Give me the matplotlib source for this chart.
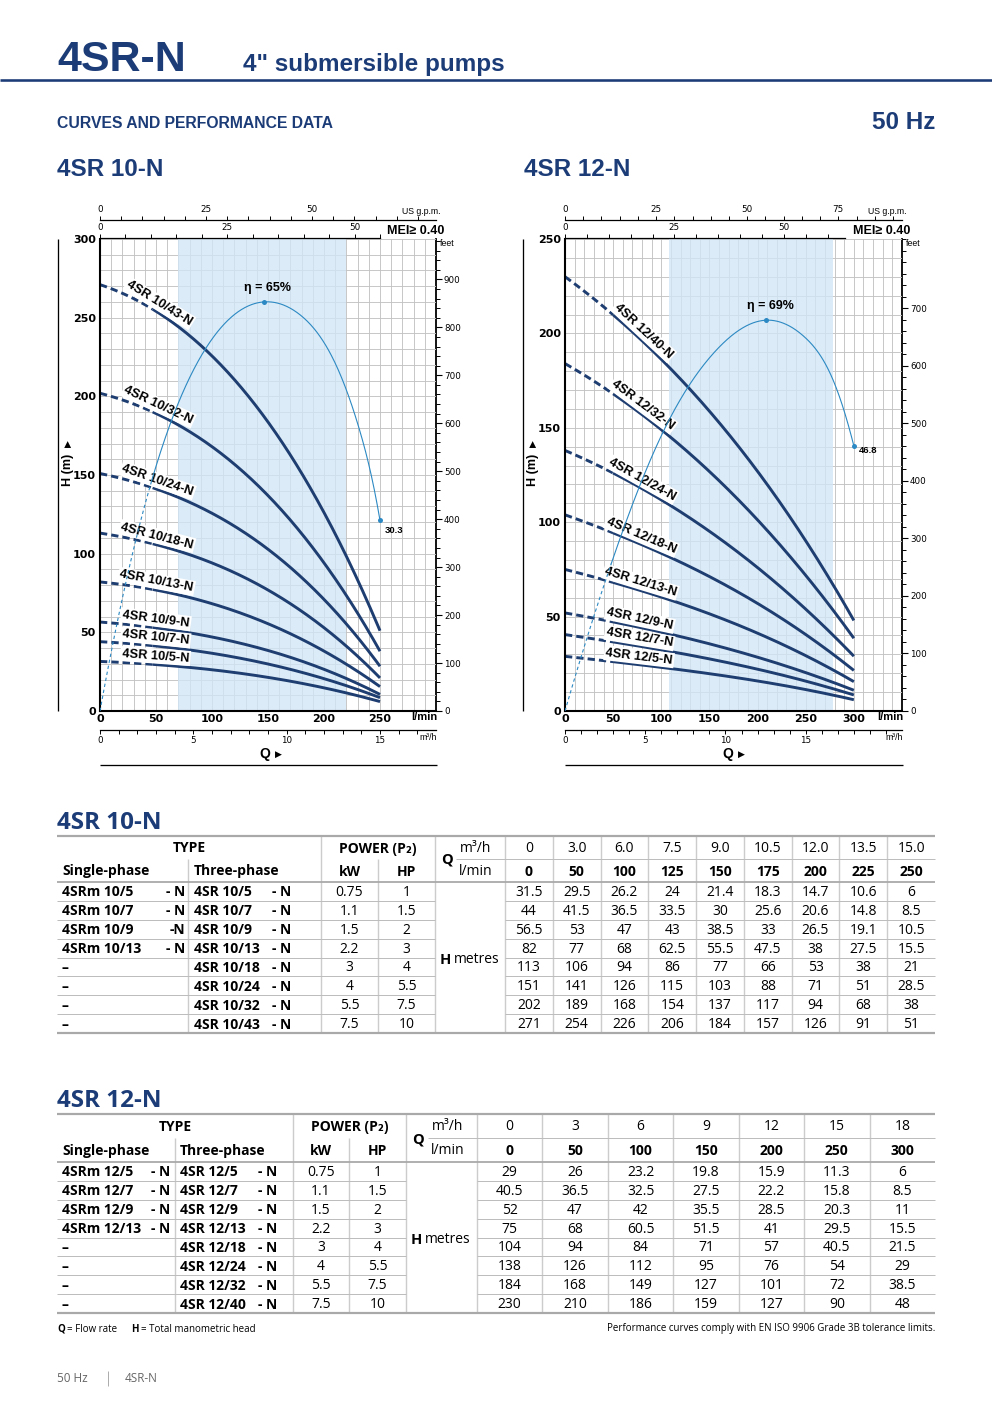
import numpy as np
import matplotlib
matplotlib.use('Agg')
import matplotlib.pyplot as plt

# ---------------------------------------------------------------- DATA
# 4SR 10-N
q10_lmin = [0, 50, 100, 125, 150, 175, 200, 225, 250]
q10_m3h = ['0', '3.0', '6.0', '7.5', '9.0', '10.5', '12.0', '13.5', '15.0']
curve10_names = ['4SR 10/5-N', '4SR 10/7-N', '4SR 10/9-N', '4SR 10/13-N',
                 '4SR 10/18-N', '4SR 10/24-N', '4SR 10/32-N', '4SR 10/43-N']
single10 = ['4SRm 10/5 - N', '4SRm 10/7 - N', '4SRm 10/9 -N', '4SRm 10/13 - N',
            '–', '–', '–', '–']
three10 = ['4SR 10/5 - N', '4SR 10/7 - N', '4SR 10/9 - N', '4SR 10/13 - N',
           '4SR 10/18 - N', '4SR 10/24 - N', '4SR 10/32 - N', '4SR 10/43 - N']
kw10 = ['0.75', '1.1', '1.5', '2.2', '3', '4', '5.5', '7.5']
hp10 = ['1', '1.5', '2', '3', '4', '5.5', '7.5', '10']
H10 = [
    [31.5, 29.5, 26.2, 24, 21.4, 18.3, 14.7, 10.6, 6],
    [44, 41.5, 36.5, 33.5, 30, 25.6, 20.6, 14.8, 8.5],
    [56.5, 53, 47, 43, 38.5, 33, 26.5, 19.1, 10.5],
    [82, 77, 68, 62.5, 55.5, 47.5, 38, 27.5, 15.5],
    [113, 106, 94, 86, 77, 66, 53, 38, 21],
    [151, 141, 126, 115, 103, 88, 71, 51, 28.5],
    [202, 189, 168, 154, 137, 117, 94, 68, 38],
    [271, 254, 226, 206, 184, 157, 126, 91, 51],
]
eff10_q = [0, 46, 94, 146, 179, 208, 232, 243, 250]
eff10_pct = [0, 36.5, 57.5, 65, 62.9, 56, 44.5, 36.8, 30.3]

# 4SR 12-N
q12_lmin = [0, 50, 100, 150, 200, 250, 300]
q12_m3h = ['0', '3', '6', '9', '12', '15', '18']
curve12_names = ['4SR 12/5-N', '4SR 12/7-N', '4SR 12/9-N', '4SR 12/13-N',
                 '4SR 12/18-N', '4SR 12/24-N', '4SR 12/32-N', '4SR 12/40-N']
single12 = ['4SRm 12/5 - N', '4SRm 12/7 - N', '4SRm 12/9 - N', '4SRm 12/13- N',
            '–', '–', '–', '–']
three12 = ['4SR 12/5 - N', '4SR 12/7 - N', '4SR 12/9 - N', '4SR 12/13 - N',
           '4SR 12/18 - N', '4SR 12/24 - N', '4SR 12/32 - N', '4SR 12/40 - N']
kw12 = ['0.75', '1.1', '1.5', '2.2', '3', '4', '5.5', '7.5']
hp12 = ['1', '1.5', '2', '3', '4', '5.5', '7.5', '10']
H12 = [
    [29, 26, 23.2, 19.8, 15.9, 11.3, 6],
    [40.5, 36.5, 32.5, 27.5, 22.2, 15.8, 8.5],
    [52, 47, 42, 35.5, 28.5, 20.3, 11],
    [75, 68, 60.5, 51.5, 41, 29.5, 15.5],
    [104, 94, 84, 71, 57, 40.5, 21.5],
    [138, 126, 112, 95, 76, 54, 29],
    [184, 168, 149, 127, 101, 72, 38.5],
    [230, 210, 186, 159, 127, 90, 48],
]
eff12_q = [0, 48, 104, 156, 209, 249, 277, 300]
eff12_pct = [0, 26, 50, 63.5, 69, 66, 59, 46.8]

# ---------------------------------------------------------------- STYLE
W, H = 992, 1403
NAVY = '#1c3c78'
CURVE = '#1e3d70'
EFF = '#2c89c3'
SHADE = '#d3e6f6'
NARROW = ['Liberation Sans Narrow', 'Liberation Sans', 'DejaVu Sans']
SANS = ['Liberation Sans', 'DejaVu Sans']
OPEN = ['Open Sans', 'DejaVu Sans']
PT = 0.72  # points per pixel at 100 dpi


def spline(x, y, xs):
    """Cubic spline through the data points (parabolic run-out ends)."""
    x = np.asarray(x, float); y = np.asarray(y, float); xs = np.asarray(xs, float)
    n = len(x); h = np.diff(x)
    A = np.zeros((n, n)); b = np.zeros(n)
    A[0, 0], A[0, 1] = 1, -1
    A[-1, -1], A[-1, -2] = 1, -1
    for i in range(1, n - 1):
        A[i, i - 1] = h[i - 1]; A[i, i] = 2 * (h[i - 1] + h[i]); A[i, i + 1] = h[i]
        b[i] = 3 * ((y[i + 1] - y[i]) / h[i] - (y[i] - y[i - 1]) / h[i - 1])
    c = np.linalg.solve(A, b)
    bc = (y[1:] - y[:-1]) / h - h * (2 * c[:-1] + c[1:]) / 3
    dc = (c[1:] - c[:-1]) / (3 * h)
    idx = np.clip(np.searchsorted(x, xs, side='right') - 1, 0, n - 2)
    dx = xs - x[idx]
    return y[idx] + bc[idx] * dx + c[idx] * dx**2 + dc[idx] * dx**3


def pump_fit(x, y, xs):
    """Smooth least-squares cubic through the tabulated duty points."""
    return np.polyval(np.polyfit(x, y, 3), xs)


fig = plt.figure(figsize=(W / 100, H / 100), dpi=100)
fig.patch.set_facecolor('white')
cv = fig.add_axes([0, 0, 1, 1])
cv.set_xlim(0, W); cv.set_ylim(H, 0); cv.axis('off')


def hline(y, x0, x1, color, lw):
    cv.plot([x0, x1], [y, y], color=color, lw=lw * PT, solid_capstyle='butt')


def vline(x, y0, y1, color, lw):
    cv.plot([x, x], [y0, y1], color=color, lw=lw * PT, solid_capstyle='butt')


# ---------------------------------------------------------------- PAGE HEADER
cv.text(57, 71, '4SR-N', fontsize=31, fontweight='bold', family=SANS, color=NAVY, va='baseline')
cv.text(243, 71, '4" submersible pumps', fontsize=17.5, fontweight='bold', family=SANS,
        color=NAVY, va='baseline')
hline(80, 0, W, NAVY, 2.6)
cv.text(57, 128.5, 'CURVES AND PERFORMANCE DATA', fontsize=11.3, fontweight='bold', family=SANS,
        color=NAVY, va='baseline')
cv.text(935, 129, '50 Hz', fontsize=17.5, fontweight='bold', family=SANS, color=NAVY,
        va='baseline', ha='right')
cv.text(57, 176, '4SR 10-N', fontsize=17.5, fontweight='bold', family=SANS, color=NAVY, va='baseline')
cv.text(524, 176, '4SR 12-N', fontsize=17.5, fontweight='bold', family=SANS, color=NAVY, va='baseline')


# ---------------------------------------------------------------- CHARTS
def scale_bar(L, R, y, xmax, major, minor, side, bound=None):
    a = fig.add_axes([L / W, 1 - y / H, (R - L) / W, 1e-4])
    a.set_xlim(0, xmax); a.set_ylim(0, 1)
    a.patch.set_visible(False)
    a.set_yticks([])
    for s in a.spines.values():
        s.set_visible(False)
    sp = a.spines[side]
    sp.set_visible(True); sp.set_linewidth(0.9)
    if bound is not None:
        sp.set_bounds(0, bound)
    a.set_xticks(major, [str(v) for v in major])
    a.set_xticks(minor, minor=True)
    top = side == 'top'
    a.tick_params(axis='x', which='both', top=top, bottom=not top, labeltop=top,
                  labelbottom=not top, direction='out', length=3.2, width=0.7, pad=0.8,
                  labelsize=6.3, labelfontfamily='Liberation Sans Narrow')
    return a


def draw_chart(c, q, Hrows, names, eq, ep):
    L, R, T, B = c['L'], c['R'], c['T'], c['B']
    ax = fig.add_axes([L / W, 1 - B / H, (R - L) / W, (B - T) / H])
    ax.set_xlim(0, c['qmax']); ax.set_ylim(0, c['hmax'])
    ax.set_xticks(c['xt'], [str(v) for v in c['xt']], fontsize=8, fontweight='bold',
                  family='Liberation Sans Narrow')
    ax.set_yticks(c['yt'], [str(v) for v in c['yt']], fontsize=8, fontweight='bold',
                  family='Liberation Sans Narrow')
    ax.set_xticks(np.arange(0, c['qmax'] + 1, 10), minor=True)
    ax.set_yticks(np.arange(0, c['hmax'] + 1, 10), minor=True)
    ax.tick_params(which='both', length=0)
    ax.tick_params(axis='x', pad=2)
    ax.tick_params(axis='y', pad=3)
    ax.grid(which='both', color='#c3c3c3', lw=0.65)
    ax.set_axisbelow(True)
    ax.axvspan(*c['shade'], color=SHADE, alpha=0.8, lw=0, zorder=1)
    for s in ['top', 'right']:
        ax.spines[s].set_visible(False)
    for s in ['left', 'bottom']:
        ax.spines[s].set_linewidth(1.5)
        ax.spines[s].set_zorder(6)

    # pump curves
    for h, name in zip(Hrows, names):
        qd = np.linspace(0, c['qdash'], 40)
        qs = np.linspace(c['qdash'], q[-1], 300)
        ax.plot(qd, pump_fit(q, h, qd), color=CURVE, lw=2.1, ls=(0, (2.5, 1.4)), zorder=3)
        ax.plot(qs, pump_fit(q, h, qs), color=CURVE, lw=2.1, zorder=3, solid_capstyle='butt')
        ql = c['qlab']
        hh = pump_fit(q, h, np.array([ql, ql + 1]))
        p0 = ax.transData.transform((ql, hh[0])); p1 = ax.transData.transform((ql + 1, hh[1]))
        ang = np.arctan2(p1[1] - p0[1], p1[0] - p0[0])
        d = c['lab_off'] * PT
        ax.annotate(name, (ql, hh[0]), xytext=(-np.sin(ang) * d, np.cos(ang) * d),
                    textcoords='offset points', rotation=np.degrees(ang), rotation_mode='anchor',
                    ha='center', va='center', fontsize=9.3, fontweight='bold', family=NARROW,
                    color='black', zorder=5,
                    bbox=dict(boxstyle='square,pad=0.12', fc='white', ec='none'))

    # efficiency curve on hidden twin axis
    ae = ax.twinx()
    ae.set_ylim(0, c['eff_top'])
    ae.set_axis_off()
    qd = np.linspace(0, c['eff_dash'], 40)
    qs = np.linspace(c['eff_dash'], eq[-1], 400)
    ae.plot(qd, spline(eq, ep, qd), color=EFF, lw=0.8, ls=(0, (3, 2.5)))
    ae.plot(qs, spline(eq, ep, qs), color=EFF, lw=0.8)
    ip = int(np.argmax(ep))
    ae.plot([eq[ip], eq[-1]], [ep[ip], ep[-1]], 'o', color=EFF, ms=3.6, mec='none')
    ae.annotate(f'η = {ep[ip]:g}%', (eq[ip], ep[ip]), xytext=(3, 6), textcoords='offset points',
                ha='center', va='bottom', fontsize=9, family=NARROW, fontweight='bold')
    ae.annotate(f'{ep[-1]:g}', (eq[-1], ep[-1]), xytext=c['end_off'], textcoords='offset points',
                ha='center', va='center', fontsize=6.8, family=NARROW, fontweight='bold')

    # feet axis
    sec = ax.secondary_yaxis('right', functions=(lambda m: m / 0.3048, lambda f: f * 0.3048))
    sec.set_yticks(c['feet'], [str(v) for v in c['feet']])
    sec.set_yticks(np.arange(0, c['hmax'] / 0.3048, 20), minor=True)
    sec.tick_params(which='major', length=4.5, width=0.8, pad=1.2, labelsize=6.3,
                    labelfontfamily='Liberation Sans Narrow')
    sec.tick_params(which='minor', length=2.6, width=0.7)
    sec.spines['right'].set_linewidth(1.3)

    # extra scales
    scale_bar(L, R, 220, c['qmax'] / 3.785, c['us_lab'], np.arange(0, c['us_to'] + 1, 5), 'top')
    scale_bar(L, R, 238, c['qmax'] / 4.546, c['imp_lab'], np.arange(0, c['imp_to'] + 1, 5),
              'top', bound=c['imp_bound'])
    scale_bar(L, R, 730, c['qmax'] / 16.667, [0, 5, 10, 15], np.arange(0, c['qmax'] / 16.667, 1),
              'bottom')

    # decorations
    cv.text(R + 4, 212, 'US g.p.m.', ha='right', va='center', fontsize=6.3, family=NARROW)
    cv.text(R + 8, 231, 'MEI≥ 0.40', ha='right', va='center', fontsize=9, family=SANS,
            fontweight='bold')
    cv.text(R + 4, 244, 'feet', ha='left', va='center', fontsize=6.3, family=NARROW)
    cv.text(R + 1, 717.5, 'l/min', ha='right', va='center', fontsize=8, fontweight='bold',
            family=NARROW)
    cv.text(R + 1, 737, 'm³/h', ha='right', va='center', fontsize=6.3, family=NARROW)
    cv.text(c['qx'], 754, 'Q', ha='left', va='center', fontsize=10, fontweight='bold', family=SANS)
    cv.text(c['qx'] + 16, 754, '▶', ha='left', va='center', fontsize=6.5, family=['DejaVu Sans'])
    hline(765, L, R + 1, 'black', 1.3)
    vline(c['vx'], T, B, 'black', 1.3)
    cv.text(c['vx'] + 10, 470, 'H (m)', ha='center', va='center', rotation=90, fontsize=9,
            fontweight='bold', family=SANS)
    cv.text(c['vx'] + 10, 444, '▶', ha='center', va='center', rotation=90, fontsize=6.5,
            family=['DejaVu Sans'])
    return ax


cfg10 = dict(L=100, R=436, T=239, B=711, qmax=300, hmax=300, shade=(70, 220), qdash=47,
             qlab=49, lab_off=8.5, eff_top=75, eff_dash=46, xt=list(range(0, 251, 50)),
             yt=list(range(0, 301, 50)), feet=list(range(0, 901, 100)), us_lab=[0, 25, 50],
             us_to=75, imp_lab=[0, 25, 50], imp_to=55, imp_bound=55, end_off=(10, -7),
             qx=259, vx=58)
cfg12 = dict(L=565, R=902, T=239, B=711, qmax=350, hmax=250, shade=(108, 278), qdash=50,
             qlab=76, lab_off=8, eff_top=250 / 3, eff_dash=48, xt=list(range(0, 301, 50)),
             yt=list(range(0, 251, 50)), feet=list(range(0, 701, 100)), us_lab=[0, 25, 50, 75],
             us_to=90, imp_lab=[0, 25, 50], imp_to=60, imp_bound=64, end_off=(10, -3),
             qx=722, vx=523)

draw_chart(cfg10, q10_lmin, H10, curve10_names, eff10_q, eff10_pct)
draw_chart(cfg12, q12_lmin, H12, curve12_names, eff12_q, eff12_pct)


# ---------------------------------------------------------------- TABLES
def split_name(s):
    if '-' in s:
        head, tail = s.rsplit('-', 1)
        return head.rstrip(), '-' + tail
    return s, ''


def draw_table(g, title, m3h, lmin, single, three, kw, hp, Hrows):
    cv.text(57, g['y_top'] - 7, title, fontsize=17.5, fontweight='bold', family=OPEN, color=NAVY,
            va='baseline')
    yt, ym, yh, yb = g['y_top'], g['y_mid'], g['y_hdr'], g['y_bot']
    xs, x3, xk, xh, xq, xd, xe = (g['x_single'], g['x_three'], g['x_kw'], g['x_hp'], g['x_q'],
                                  g['x_data'], g['x_end'])
    ncol = len(lmin)
    edges = np.linspace(xd, xe, ncol + 1)
    nrow = len(Hrows)
    rows = np.linspace(yh, yb, nrow + 1)
    VC, RC = '#cccccc', '#bdbdbd'
    vline(x3, ym, yb, VC, 1.4)
    vline(xk, yt, yb, VC, 1.4)
    vline(xh, ym, yb, VC, 1.4)
    vline(xq, yt, yb, VC, 1.4)
    for e in edges[:-1]:
        vline(e, yt, yb, VC, 1.4)
    for r in rows[1:-1]:
        hline(r, xs, xq, RC, 1.0)
        hline(r, xd, xe, RC, 1.0)
    hline(ym, g['x_qunit'], xe, RC, 1.0)
    hline(yh, xs, xe, '#a9a9a9', 1.8)
    hline(yt, xs, xe, '#a9a9a9', 2.2)
    hline(yb, xs, xe, '#a9a9a9', 2.2)

    c1 = (yt + ym) / 2 + 1
    c2 = (ym + yh) / 2 + 1
    fs = 10
    cv.text((xs + xk) / 2, c1, 'TYPE', ha='center', va='center', fontsize=fs, fontweight='bold', family=OPEN)
    cv.text((xk + xq) / 2, c1, 'POWER (P₂)', ha='center', va='center', fontsize=fs,
            fontweight='bold', family=OPEN)
    cv.text(g['t_single'], c2, 'Single-phase', ha='left', va='center', fontsize=fs, fontweight='bold', family=OPEN)
    cv.text(g['t_three'], c2, 'Three-phase', ha='left', va='center', fontsize=fs, fontweight='bold', family=OPEN)
    cv.text((xk + xh) / 2, c2, 'kW', ha='center', va='center', fontsize=fs, fontweight='bold', family=OPEN)
    cv.text((xh + xq) / 2, c2, 'HP', ha='center', va='center', fontsize=fs, fontweight='bold', family=OPEN)
    cv.text(g['q_x'], ym + 1, 'Q', ha='center', va='center', fontsize=fs + 0.5, fontweight='bold', family=OPEN)
    cv.text(g['qu_x'], c1, 'm³/h', ha='center', va='center', fontsize=fs, family=OPEN)
    cv.text(g['qu_x'], c2, 'l/min', ha='center', va='center', fontsize=fs, family=OPEN)
    for j in range(ncol):
        cx = (edges[j] + edges[j + 1]) / 2
        cv.text(cx, c1, m3h[j], ha='center', va='center', fontsize=fs, family=OPEN)
        cv.text(cx, c2, str(lmin[j]), ha='center', va='center', fontsize=fs, fontweight='bold', family=OPEN)
    cv.text(g['h_x'], (yh + yb) / 2 + 2, 'H', ha='left', va='center', fontsize=fs + 0.5,
            fontweight='bold', family=OPEN)
    cv.text(g['h_x'] + 14, (yh + yb) / 2 + 2, 'metres', ha='left', va='center', fontsize=fs, family=OPEN)
    for i in range(nrow):
        cy = (rows[i] + rows[i + 1]) / 2 + 1
        a, b = split_name(single[i])
        cv.text(g['t_single'], cy, a, ha='left', va='center', fontsize=fs, fontweight='bold', family=OPEN)
        if b:
            cv.text(g['s_single'], cy, b, ha='right', va='center', fontsize=fs, fontweight='bold', family=OPEN)
        a, b = split_name(three[i])
        cv.text(g['t_three'], cy, a, ha='left', va='center', fontsize=fs, fontweight='bold', family=OPEN)
        if b:
            cv.text(g['s_three'], cy, b, ha='right', va='center', fontsize=fs, fontweight='bold', family=OPEN)
        cv.text((xk + xh) / 2, cy, kw[i], ha='center', va='center', fontsize=fs, family=OPEN)
        cv.text((xh + xq) / 2, cy, hp[i], ha='center', va='center', fontsize=fs, family=OPEN)
        for j in range(ncol):
            cx = (edges[j] + edges[j + 1]) / 2
            cv.text(cx, cy, f'{Hrows[i][j]:g}', ha='center', va='center', fontsize=fs, family=OPEN)


g10 = dict(y_top=836, y_mid=859, y_hdr=882, y_bot=1033, x_single=57, x_three=188, x_kw=321,
           x_hp=378, x_q=435, x_data=505, x_end=935, x_qunit=456, t_single=62, t_three=194,
           s_single=185, s_three=291, q_x=447, qu_x=476, h_x=440)
g12 = dict(y_top=1114, y_mid=1138, y_hdr=1162, y_bot=1313, x_single=57, x_three=175, x_kw=293,
           x_hp=349, x_q=406, x_data=477, x_end=935, x_qunit=428, t_single=62, t_three=180,
           s_single=170, s_three=277, q_x=418, qu_x=448, h_x=411)

draw_table(g10, '4SR 10-N', q10_m3h, q10_lmin, single10, three10, kw10, hp10, H10)
draw_table(g12, '4SR 12-N', q12_m3h, q12_lmin, single12, three12, kw12, hp12, H12)

# ---------------------------------------------------------------- FOOTNOTES
cv.text(57, 1329, 'Q', ha='left', va='center', fontsize=7, fontweight='bold', family=OPEN)
cv.text(67, 1329, '= Flow rate', ha='left', va='center', fontsize=7, family=OPEN)
cv.text(131, 1329, 'H', ha='left', va='center', fontsize=7, fontweight='bold', family=OPEN)
cv.text(141, 1329, '= Total manometric head', ha='left', va='center', fontsize=7, family=OPEN)
cv.text(935, 1329, 'Performance curves comply with EN ISO 9906 Grade 3B tolerance limits.',
        ha='right', va='center', fontsize=7, family=OPEN)
cv.text(57, 1378, '50 Hz', ha='left', va='center', fontsize=8.5, family=OPEN, color='#666666')
vline(108, 1371, 1386, '#999999', 0.8)
cv.text(125, 1378, '4SR-N', ha='left', va='center', fontsize=8.5, family=OPEN, color='#666666')

fig.savefig('out.png', dpi=100, facecolor='white')
